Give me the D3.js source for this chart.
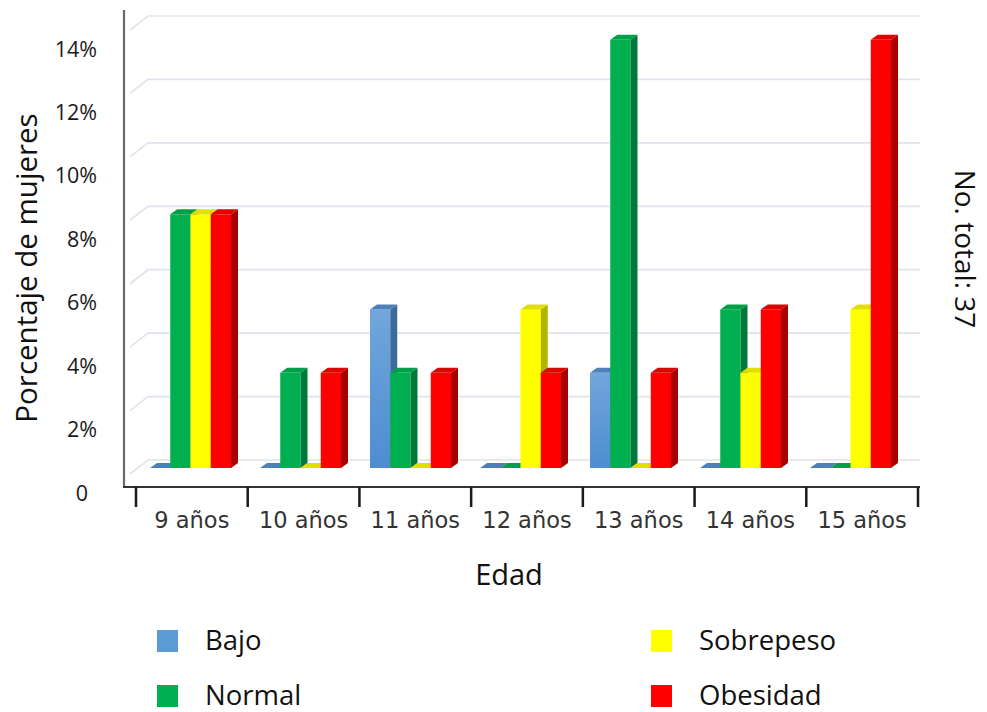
<!DOCTYPE html>
<html>
<head>
<meta charset="utf-8">
<script src="https://cdn.jsdelivr.net/npm/d3@7"></script>
<style>
  html, body { margin: 0; padding: 0; background: #fff; }
  svg { display: block; }
</style>
</head>
<body>
<svg id="chart" width="987" height="712"></svg>
<script>
// Age groups on the x axis
const categories = ["9 años", "10 años", "11 años", "12 años", "13 años", "14 años", "15 años"];
// Weight status series
const seriesNames = ["Bajo", "Normal", "Sobrepeso", "Obesidad"];
// Percentage of women per age group, one array per series
const bajo      = [0, 0, 5, 0, 3,    0, 0];
const normal    = [8, 3, 3, 0, 13.5, 5, 0];
const sobrepeso = [8, 0, 0, 5, 0,    3, 5];
const obesidad  = [8, 3, 3, 3, 3,    5, 13.5];
// Y axis ticks
const yTicks = [0, 2, 4, 6, 8, 10, 12, 14];
const yTickLabels = ["0", "2%", "4%", "6%", "8%", "10%", "12%", "14%"];

const seriesValues = [bajo, normal, sobrepeso, obesidad];
const faceColors = {
  Bajo:      { front: "url(#gradBajo)", top: "#4e80b8", side: "#3d6a9c", flat: "#5b9bd5" },
  Normal:    { front: "#00b050", top: "#00a048", side: "#007a38", flat: "#00b050" },
  Sobrepeso: { front: "#ffff00", top: "#e0e000", side: "#b4b400", flat: "#ffff00" },
  Obesidad:  { front: "#ff0000", top: "#e00000", side: "#a80000", flat: "#ff0000" }
};

const svg = d3.select("#chart");
const defs = svg.append("defs");
const g1 = defs.append("linearGradient").attr("id", "gradBajo")
  .attr("x1", 0).attr("y1", 0).attr("x2", 0).attr("y2", 1);
g1.append("stop").attr("offset", "0%").attr("stop-color", "#72a6dc");
g1.append("stop").attr("offset", "100%").attr("stop-color", "#4d8dd0");

const fontMain = "'Open Sans', 'Noto Sans', sans-serif";

// Scales
const y = d3.scaleLinear().domain([0, 14]).range([468, 24]);
const xGroup = d3.scaleBand().domain(categories).range([135.5, 905.5]);
const xInner = d3.scaleBand().domain(seriesNames).range([0, 81]);
const xAxisScale = d3.scaleBand().domain(categories).range([136, 918]);

// 3D depth offsets
const dx = 7, dy = 5;
const backShift = -8, gridDx = 18, gridDy = 14;
const plotLeft = 124, plotRight = 920, axisY = 487;

// Back-wall gridlines with the short diagonal on the left wall
const grid = svg.append("g");
yTicks.forEach(t => {
  const yb = y(t) + backShift;
  grid.append("path")
    .attr("d", `M${130},${yb + gridDy} L${130 + gridDx},${yb} L${plotRight},${yb}`)
    .attr("fill", "none").attr("stroke", "#e1e4ec").attr("stroke-width", 1.7);
});

// Y tick labels
svg.append("g").selectAll("text").data(yTicks).join("text")
  .attr("x", (d, i) => yTickLabels[i] === "0" ? 88 : 97)
  .attr("y", d => y(d) + 25)
  .attr("dy", "0.35em")
  .attr("text-anchor", "end")
  .attr("font-family", fontMain)
  .attr("font-size", 21.5)
  .attr("fill", "#1a1a1a")
  .text((d, i) => yTickLabels[i]);

// Bars
const bars = svg.append("g");
categories.forEach((cat, ci) => {
  const gx = xGroup(cat) + xGroup.bandwidth() / 2 - 40.5;
  seriesNames.forEach((s, si) => {
    const v = seriesValues[si][ci];
    const x0 = gx + xInner(s);
    const x1 = x0 + xInner.bandwidth();
    const yb = y(0), yt = y(v);
    const c = faceColors[s];
    const bar = bars.append("g");
    if (v > 0) {
      bar.append("rect").attr("x", x0).attr("y", yt)
        .attr("width", x1 - x0).attr("height", yb - yt).attr("fill", c.front);
      bar.append("path")
        .attr("d", `M${x1},${yt} L${x1 + dx},${yt - dy} L${x1 + dx},${yb - dy} L${x1},${yb} Z`)
        .attr("fill", c.side);
    }
    bar.append("path")
      .attr("d", `M${x0},${yt} L${x0 + dx},${yt - dy} L${x1 + dx},${yt - dy} L${x1},${yt} Z`)
      .attr("fill", c.top);
  });
});

// Axis lines
svg.append("line").attr("x1", plotLeft).attr("x2", plotLeft).attr("y1", 10).attr("y2", axisY + 1)
  .attr("stroke", "#6a6a6a").attr("stroke-width", 2.2);
svg.append("line").attr("x1", plotLeft - 1).attr("x2", plotRight).attr("y1", axisY).attr("y2", axisY)
  .attr("stroke", "#333").attr("stroke-width", 2);

// X axis ticks and labels
const tickPositions = categories.map(c => xAxisScale(c)).concat([xAxisScale.range()[1]]);
svg.append("g").selectAll("line").data(tickPositions).join("line")
  .attr("x1", d => d).attr("x2", d => d).attr("y1", axisY).attr("y2", axisY + 20)
  .attr("stroke", "#1a1a1a").attr("stroke-width", 2.5);
svg.append("g").selectAll("text").data(categories).join("text")
  .attr("x", d => xAxisScale(d) + xAxisScale.bandwidth() / 2)
  .attr("y", 528)
  .attr("text-anchor", "middle")
  .attr("font-family", "'DejaVu Sans', Verdana, sans-serif")
  .attr("font-size", 22.5)
  .attr("fill", "#333")
  .text(d => d);

// Axis titles
svg.append("text")
  .attr("transform", "translate(37,268) rotate(-90)")
  .attr("text-anchor", "middle")
  .attr("font-family", fontMain).attr("font-size", 29.5).attr("fill", "#111")
  .text("Porcentaje de mujeres");
svg.append("text")
  .attr("x", 509).attr("y", 585)
  .attr("text-anchor", "middle")
  .attr("font-family", fontMain).attr("font-size", 29).attr("fill", "#111")
  .text("Edad");
svg.append("text")
  .attr("transform", "translate(955,249) rotate(90)")
  .attr("text-anchor", "middle")
  .attr("font-family", fontMain).attr("font-size", 28).attr("fill", "#111")
  .text("No. total: 37");

// Legend
const legendPos = [
  { x: 157, y: 630 }, { x: 157, y: 685 },
  { x: 651, y: 630 }, { x: 651, y: 685 }
];
const legend = svg.append("g");
seriesNames.forEach((s, i) => {
  const p = legendPos[i];
  legend.append("rect").attr("x", p.x).attr("y", p.y).attr("width", 21).attr("height", 22)
    .attr("fill", faceColors[s].flat);
  legend.append("text").attr("x", p.x + 48).attr("y", p.y + 20)
    .attr("font-family", fontMain).attr("font-size", 27.5).attr("fill", "#111")
    .text(s);
});
</script>
</body>
</html>
